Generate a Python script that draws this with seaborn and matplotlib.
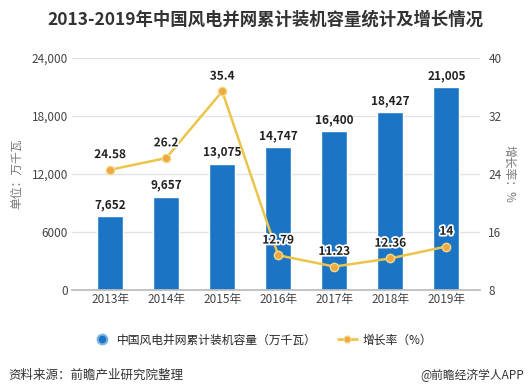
import matplotlib
matplotlib.use("Agg")
import matplotlib.pyplot as plt
import matplotlib.patheffects as pe
from matplotlib.lines import Line2D
import seaborn as sns
import pandas as pd

years = ["2013年", "2014年", "2015年", "2016年", "2017年", "2018年", "2019年"]
capacity = [7652, 9657, 13075, 14747, 16400, 18427, 21005]
growth = [24.58, 26.2, 35.4, 12.79, 11.23, 12.36, 14]
growth_labels = ["24.58", "26.2", "35.4", "12.79", "11.23", "12.36", "14"]
left_ticks = [0, 6000, 12000, 18000, 24000]
left_tick_labels = ["0", "6000", "12,000", "18,000", "24,000"]
right_ticks = [8, 16, 24, 32, 40]

sns.set_theme(style="white")
plt.rcParams['font.family'] = ['Noto Sans CJK SC', 'DejaVu Sans']

df = pd.DataFrame({"year": years, "capacity": capacity, "growth": growth, "x": range(len(years))})

fig = plt.figure(figsize=(5.3, 3.92), dpi=100)
ax = fig.add_axes([72/530, 1-290/392, 408/530, 232/392])

bar_color = "#1B75C4"
sns.barplot(data=df, x="year", y="capacity", color=bar_color, width=0.46, ax=ax, saturation=1)
ax.set_ylim(0, 24000)
ax.set_xlim(-0.68, 6.6)
ax.set_yticks(left_ticks)
ax.set_yticklabels(left_tick_labels)
ax.grid(axis="y", color="#e3e3e3", linewidth=1)
ax.set_axisbelow(True)
for s in ["top", "right", "left"]:
    ax.spines[s].set_visible(False)
ax.spines["bottom"].set_color("#bbbbbb")
ax.tick_params(axis="both", labelsize=8.5, colors="#444444", length=0, pad=3)
ax.tick_params(axis="x", pad=2)
ax.set_xlabel("")
ax.set_ylabel("单位：万千瓦", fontsize=8.5, color="#777777", labelpad=6)

for i, v in enumerate(capacity):
    ax.text(i, v + 500, f"{v:,}", ha="center", va="bottom", fontsize=8.5,
            fontweight="bold", color="#222222")

ax2 = ax.twinx()
line_color = "#EBC54A"
sns.lineplot(data=df, x="x", y="growth", ax=ax2, color=line_color, linewidth=1.8,
             marker="o", markersize=6, markerfacecolor="#F0A840", markeredgecolor="#F3D98A",
             markeredgewidth=1)
ax2.set_ylim(8, 40)
ax2.set_yticks(right_ticks)
ax2.set_xlim(-0.68, 6.6)
for s in ["top", "right", "left", "bottom"]:
    ax2.spines[s].set_visible(False)
ax2.tick_params(axis="y", labelsize=8.5, colors="#444444", length=0, pad=6)
ax2.set_ylabel("增长率：%", fontsize=8.5, color="#777777", rotation=270, labelpad=10)
ax2.set_xlabel("")

for i, (v, lab) in enumerate(zip(growth, growth_labels)):
    ax2.text(i, v + 1.2, lab, ha="center", va="bottom", fontsize=8.5, fontweight="bold",
             color="#222222", path_effects=[pe.withStroke(linewidth=2.5, foreground="white")])

fig.text(0.5, 1-20/392, "2013-2019年中国风电并网累计装机容量统计及增长情况", ha="center", va="center",
         fontsize=12.5, fontweight="bold", color="#333333")

handles = [
    Line2D([], [], linestyle="none", marker="o", markersize=7, markerfacecolor=bar_color,
           markeredgecolor="#7fb2e0", markeredgewidth=1.5),
    Line2D([], [], color=line_color, linewidth=2, marker="o", markersize=5,
           markerfacecolor="#F0A840", markeredgecolor="#F3D98A"),
]
fig.legend(handles, ["中国风电并网累计装机容量（万千瓦）", "增长率（%）"], loc="center",
           bbox_to_anchor=(0.495, 1-340/392), ncol=2, frameon=False, fontsize=8.5,
           handlelength=1.6, columnspacing=1.8, handletextpad=0.5)

fig.text(8/530, 1-375/392, "资料来源：前瞻产业研究院整理", ha="left", va="center", fontsize=9, color="#333333")
fig.text(524/530, 1-375/392, "@前瞻经济学人APP", ha="right", va="center", fontsize=8.5, color="#333333")

fig.savefig("out.png", dpi=100)
